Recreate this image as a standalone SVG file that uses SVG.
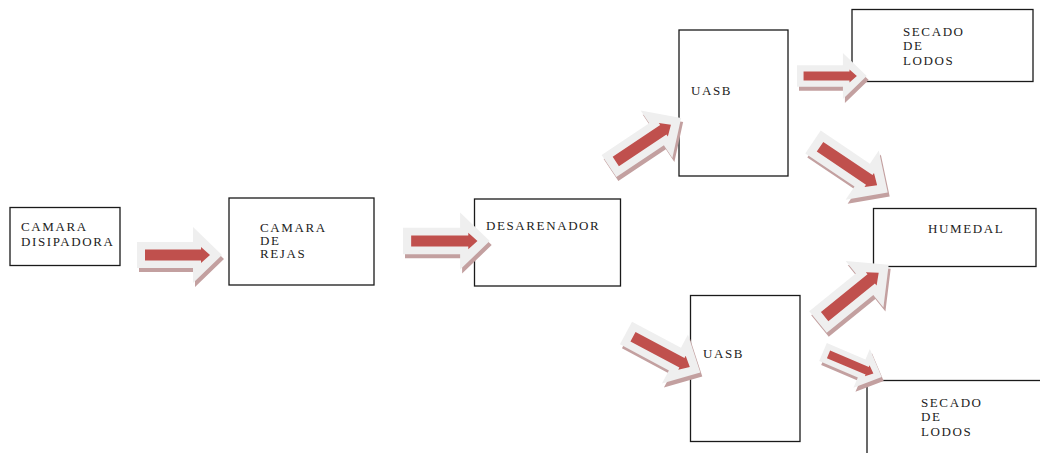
<svg xmlns="http://www.w3.org/2000/svg" xmlns:xlink="http://www.w3.org/1999/xlink" width="1040" height="453" viewBox="0 0 1040 453">
<style>
.box{fill:#fff;stroke:#1a1a1a;stroke-width:1.3}
.t{font-family:"Liberation Serif","Times New Roman",serif;font-size:13px;letter-spacing:1.6px;fill:#222}
.sh{fill:#c3a0a0}
.gr{fill:#efefef}
.rd{fill:#c0504d}
</style>
<defs>
<path id="ag" d="M0,-13 H56 V-28 L85,0 L56,28 V13 H0 Z"/>
<path id="ar" d="M8,-5.5 H64 V-8 L73,0 L64,8 V5.5 H8 Z"/>
</defs>
<rect width="1040" height="453" fill="#fff"/>
<g id="n1"><rect class="box" x="10" y="207.5" width="110" height="58"/><text class="t" x="21" y="231">CAMARA</text><text class="t" x="21" y="246">DISIPADORA</text></g>
<g id="n2"><rect class="box" x="229" y="198" width="145" height="87"/><text class="t" x="260" y="232">CAMARA</text><text class="t" x="260" y="245">DE</text><text class="t" x="260" y="258">REJAS</text></g>
<g id="n3"><rect class="box" x="474.5" y="199" width="146" height="87"/><text class="t" x="486" y="230">DESARENADOR</text></g>
<g id="n4"><rect class="box" x="679" y="30" width="109" height="146"/><text class="t" x="691" y="95">UASB</text></g>
<g id="n5"><rect class="box" x="690.5" y="295.5" width="109.5" height="146"/><text class="t" x="703" y="358">UASB</text></g>
<g id="n6"><rect class="box" x="852" y="9.5" width="181" height="72"/><text class="t" x="903" y="36">SECADO</text><text class="t" x="903" y="50">DE</text><text class="t" x="903" y="65">LODOS</text></g>
<g id="n7"><rect class="box" x="873.5" y="208.5" width="162.5" height="58"/><text class="t" x="928" y="233">HUMEDAL</text></g>
<g id="n8"><rect class="box" x="867" y="380.5" width="180" height="80"/><text class="t" x="921" y="407">SECADO</text><text class="t" x="921" y="421">DE</text><text class="t" x="921" y="436">LODOS</text></g>
<g id="connectors">
<g id="a1"><g transform="translate(2,4)"><use class="sh" href="#ag" transform="translate(137,255)"/></g><use class="gr" href="#ag" transform="translate(137,255)"/><use class="rd" href="#ar" transform="translate(137,255)"/></g>
<g id="a2"><g transform="translate(2,4)"><use class="sh" href="#ag" transform="translate(403,241) scale(1.02)"/></g><use class="gr" href="#ag" transform="translate(403,241) scale(1.02)"/><use class="rd" href="#ar" transform="translate(403,241) scale(1.02)"/></g>
<g id="a3"><g transform="translate(2,4)"><use class="sh" href="#ag" transform="translate(609,166) rotate(-33.7) scale(1.02)"/></g><use class="gr" href="#ag" transform="translate(609,166) rotate(-33.7) scale(1.02)"/><use class="rd" href="#ar" transform="translate(609,166) rotate(-33.7) scale(1.02)"/></g>
<g id="a4"><g transform="translate(2,4)"><use class="sh" href="#ag" transform="translate(797,76) scale(0.82)"/></g><use class="gr" href="#ag" transform="translate(797,76) scale(0.82)"/><use class="rd" href="#ar" transform="translate(797,76) scale(0.82)"/></g>
<g id="a5"><g transform="translate(2,4)"><use class="sh" href="#ag" transform="translate(813,142) rotate(34) scale(1.06)"/></g><use class="gr" href="#ag" transform="translate(813,142) rotate(34) scale(1.06)"/><use class="rd" href="#ar" transform="translate(813,142) rotate(34) scale(1.06)"/></g>
<g id="a6"><g transform="translate(2,4)"><use class="sh" href="#ag" transform="translate(818,322) rotate(-39) scale(1.07)"/></g><use class="gr" href="#ag" transform="translate(818,322) rotate(-39) scale(1.07)"/><use class="rd" href="#ar" transform="translate(818,322) rotate(-39) scale(1.07)"/></g>
<g id="a7"><g transform="translate(2,4)"><use class="sh" href="#ag" transform="translate(626,333) rotate(28) scale(0.99)"/></g><use class="gr" href="#ag" transform="translate(626,333) rotate(28) scale(0.99)"/><use class="rd" href="#ar" transform="translate(626,333) rotate(28) scale(0.99)"/></g>
<g id="a8"><g transform="translate(2,4)"><use class="sh" href="#ag" transform="translate(823,352) rotate(23) scale(0.75)"/></g><use class="gr" href="#ag" transform="translate(823,352) rotate(23) scale(0.75)"/><use class="rd" href="#ar" transform="translate(823,352) rotate(23) scale(0.75)"/></g>
</g>
</svg>
